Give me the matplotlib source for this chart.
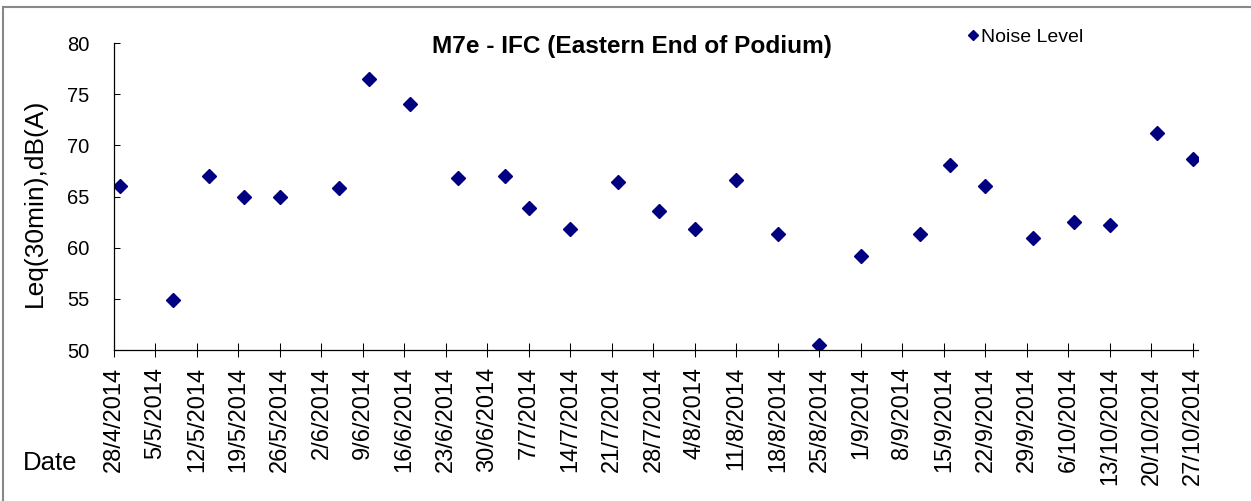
import datetime as dt
import matplotlib
matplotlib.use("Agg")
import matplotlib.pyplot as plt
import matplotlib.dates as mdates
from matplotlib.lines import Line2D

plt.rcParams['font.family'] = ['Liberation Sans', 'DejaVu Sans']

# ---------- DATA ----------
dates = ["29/4/2014", "8/5/2014", "14/5/2014", "20/5/2014", "26/5/2014",
         "5/6/2014", "10/6/2014", "17/6/2014", "25/6/2014", "3/7/2014",
         "7/7/2014", "14/7/2014", "22/7/2014", "29/7/2014", "4/8/2014",
         "11/8/2014", "18/8/2014", "25/8/2014", "1/9/2014", "11/9/2014",
         "16/9/2014", "22/9/2014", "30/9/2014", "7/10/2014", "13/10/2014",
         "21/10/2014", "27/10/2014"]
noise = [66.0, 54.9, 67.0, 65.0, 65.0,
         65.8, 76.5, 74.0, 66.8, 67.0,
         63.9, 61.8, 66.4, 63.6, 61.8,
         66.6, 61.3, 50.5, 59.2, 61.3,
         68.1, 66.0, 60.9, 62.5, 62.2,
         71.2, 68.7]
tick_start = "28/4/2014"
n_ticks = 27
y_ticks = [50, 55, 60, 65, 70, 75, 80]

def parse(s):
    return dt.datetime.strptime(s, "%d/%m/%Y")

x = mdates.date2num([parse(d) for d in dates])
t0 = parse(tick_start)
ticks = [t0 + dt.timedelta(days=7 * i) for i in range(n_ticks)]
tick_labels = [f"{t.day}/{t.month}/{t.year}" for t in ticks]

W, H = 1251, 501
fig = plt.figure(figsize=(W / 100, H / 100), dpi=100)
ax = fig.add_axes([114 / W, 1 - 350 / H, (1198 - 114) / W, (350 - 43) / H])

ax.plot(x, noise, linestyle="none", marker="D", markersize=7.2,
        color="#000080", label="Noise Level")

ax.set_ylim(50, 80)
ax.set_yticks(y_ticks)
ax.set_xlim(mdates.date2num(t0), mdates.date2num(ticks[-1]) + 0.85)
ax.set_xticks(mdates.date2num(ticks))
ax.set_xticklabels(tick_labels, rotation=90, fontsize=17)
ax.tick_params(axis="y", direction="in", length=4.5, width=0.75,
               labelsize=14.5, pad=18)
ax.tick_params(axis="x", direction="inout", length=10, width=0.75, pad=7)

for s in ["top", "right"]:
    ax.spines[s].set_visible(False)
for s in ["left", "bottom"]:
    ax.spines[s].set_linewidth(0.9)

fig.text(632 / W, 1 - 46 / H, "M7e - IFC (Eastern End of Podium)",
         ha="center", va="center", fontsize=17.6, fontweight="bold")
fig.text(35 / W, 1 - 203 / H, "Leq(30min),dB(A)", rotation=90,
         ha="center", va="center", fontsize=19)
fig.text(23 / W, 1 - 463 / H, "Date", ha="left", va="center", fontsize=18.5)

fig.legend(loc="center left", bbox_to_anchor=(957 / W, 1 - 37 / H),
           frameon=False, fontsize=14, markerscale=0.65,
           handlelength=0.6, handletextpad=0.15, borderpad=0)

# outer frame (left/top edges visible in the crop)
fig.add_artist(Line2D([3 / W, 3 / W], [0, 1 - 7 / H], color="#888888", lw=1.5))
fig.add_artist(Line2D([3 / W, 1], [1 - 7 / H, 1 - 7 / H], color="#888888", lw=1.5))

fig.savefig("out.png", dpi=100)
